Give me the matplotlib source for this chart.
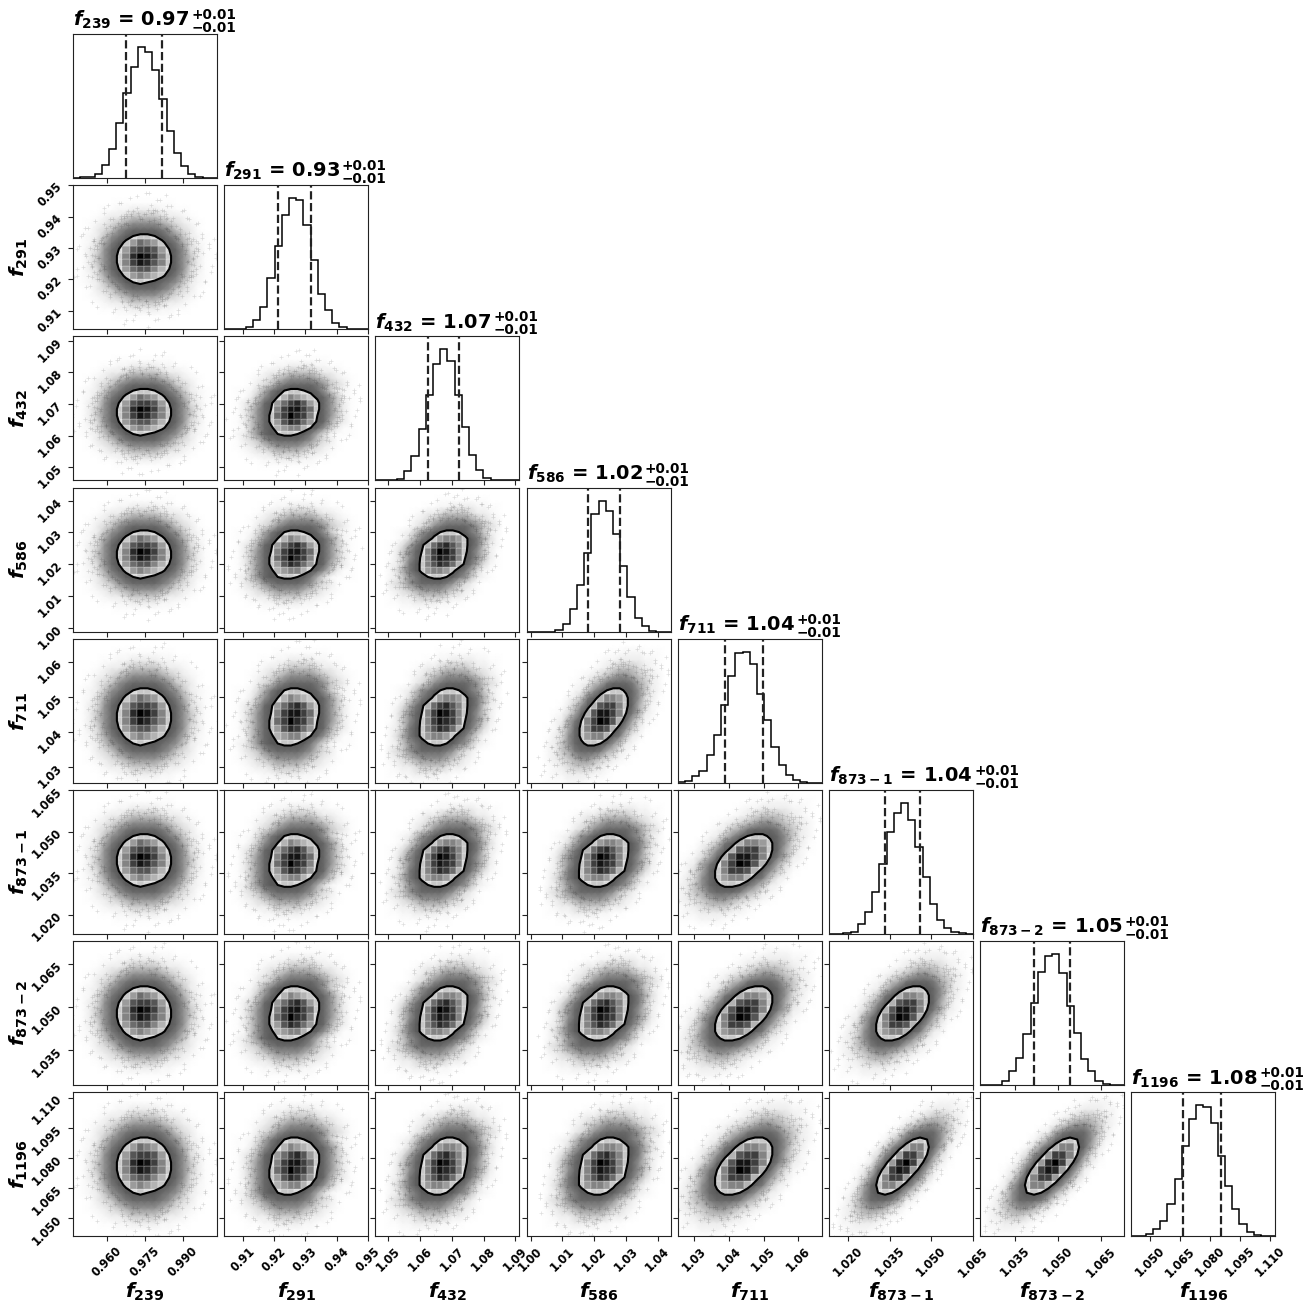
import numpy as np
import matplotlib
matplotlib.use("Agg")
import matplotlib.pyplot as plt

W, H_PX = 1312, 1309

names = ["239", "291", "432", "586", "711", "873-1", "873-2", "1196"]
medians = ["0.97", "0.93", "1.07", "1.02", "1.04", "1.04", "1.05", "1.08"]
err_up = ["+0.01"] * 8
err_lo = ["\u22120.01"] * 8
limits = [(0.9465, 1.0033), (0.9041, 0.9500), (1.0459, 1.0913), (0.99875, 1.0441),
          (1.0254, 1.0667), (1.0131, 1.0650), (1.0227, 1.0730), (1.0410, 1.1126)]
ticks = [[0.960, 0.975, 0.990],
         [0.91, 0.92, 0.93, 0.94, 0.95],
         [1.05, 1.06, 1.07, 1.08, 1.09],
         [1.00, 1.01, 1.02, 1.03, 1.04],
         [1.03, 1.04, 1.05, 1.06],
         [1.020, 1.035, 1.050, 1.065],
         [1.035, 1.050, 1.065],
         [1.050, 1.065, 1.080, 1.095, 1.110]]
tick_fmt = ["%.3f", "%.2f", "%.2f", "%.2f", "%.2f", "%.3f", "%.3f", "%.3f"]

hist_239 = [0, 2, 4, 11, 38, 86, 164, 254, 332, 392, 377, 323, 236, 140, 74, 37, 11, 2, 0, 0]
hist_291 = [0, 0, 2, 8, 27, 66, 154, 249, 344, 393, 387, 314, 207, 105, 57, 19, 6, 0, 0, 0]
hist_432 = [0, 0, 0, 5, 28, 72, 153, 256, 350, 392, 358, 256, 161, 76, 30, 7, 0, 0, 0, 0]
hist_586 = [0, 0, 0, 0, 6, 24, 66, 140, 233, 351, 390, 358, 290, 195, 102, 41, 16, 3, 0, 0]
hist_711 = [2, 5, 19, 36, 84, 144, 234, 321, 389, 392, 355, 267, 187, 108, 54, 24, 9, 3, 0, 0]
hist_873_1 = [0, 0, 2, 7, 29, 65, 125, 209, 305, 362, 392, 340, 260, 170, 89, 42, 17, 5, 2, 0]
hist_873_2 = [0, 0, 1, 14, 42, 80, 153, 245, 340, 386, 392, 335, 237, 156, 79, 42, 14, 3, 0, 0]
hist_1196 = [0, 2, 7, 22, 47, 98, 172, 271, 352, 392, 388, 341, 241, 151, 82, 38, 13, 4, 0, 0]
hists = [hist_239, hist_291, hist_432, hist_586, hist_711, hist_873_1, hist_873_2, hist_1196]

q16 = [0.96740, 0.92115, 1.06248, 1.01798, 1.03885, 1.03329, 1.04149, 1.06650]
q84 = [0.98160, 0.93170, 1.07226, 1.02807, 1.04975, 1.04590, 1.05407, 1.08540]

# density cells: level characters, top row first, in cells of 0.4 sigma
level_chars = "0123456789abcdefghijklm"
level_vals = [0, 2, 5, 10, 20, 35, 60, 90, 130, 180, 230, 280, 320, 370, 430, 500, 570, 640, 710, 780, 850, 920, 1000]

density_0 = ["000001111111100000", "000112233332211000", "001233455554332100", "012345677776543210",
             "013457899998754310", "123578acddca875321", "12468adfhgfda86421", "13479cfijjifc97431",
             "13579dgkmljgd97531", "13579dgjlkigd97531", "13479cfhiigec97431", "12468adfgfeda86421",
             "123578acdcb9875321", "013457899998754310", "012345677776543210", "001233455554332100",
             "000112233332211000", "000001111111100000"]
density_1 = ["000000111111110000", "000011223333221100", "000123345555433210", "001234567777654321",
             "001345789999875431", "112468acddcb975321", "113579cegfedb97521", "13469bfhjkifd97531",
             "13579cgjlljhd97531", "13579dhjmkjgc97531", "13579dfikjhfb96431", "12579befggec975311",
             "23579bcddca8642111", "134578999987543100", "123456777765432100", "012334555543321000",
             "001122333322110000", "000011111111000000"]
density_2 = ["000000001111111100", "000000112233332211", "000012334555543321", "000123456777765432",
             "000134578999987543", "0123578acddca87532", "012468adfggfda8642", "12468behjkigda8532",
             "13579cgjmljgd97531", "13579dgjlkjgc97531", "2358adgikjheb86421", "2468adfggfda864210",
             "23578acddca8753210", "345789999875431000", "234567777654321000", "123345555433210000",
             "112233332211000000", "001111111100000000"]
density_3 = ["000000000011222111", "000000001223333221", "000000012345554321", "000001234567765432",
             "000012356899986532", "000023579cddb97532", "0002358aeggfd97431", "001357aeijjgd96421",
             "012469eilljgc86320", "02368cgjmlie964210", "12469dgjjiea753100", "13479dfggea8532000",
             "23579bddc975320000", "235689998653210000", "234567765432100000", "123455543210000000",
             "122333322100000000", "111222110000000000"]
density_4 = ["000000000000112221", "000000000001233322", "000000000123455432", "000000001346776532",
             "000000023689997531", "0000002469cdc97421", "00000247aeggd96310", "0000247afjjgc74200",
             "000136afkmje953100", "001359ejlkfa631000", "00247cgjjfa7420000", "01369dggea74200000",
             "12479cdc9642000000", "135799986320000000", "235677643100000000", "234554321000000000",
             "223332100000000000", "122211000000000000"]
densities = [density_0, density_1, density_2, density_3, density_4]
rhos = [0.0, 0.15, 0.35, 0.55, 0.75]

panel_class = [[0], [0, 1], [0, 1, 2], [0, 1, 2, 3], [0, 1, 2, 2, 3],
               [0, 1, 2, 2, 3, 3], [0, 1, 2, 2, 3, 4, 4]]

# sparse individual samples, in sigma units
tail_u = [2.6, 3.1, -2.8, -3.3, .5, -.9, 1.6, -1.9, 2.4, -2.3, .2, 1.2, -1.1, 3.6, -3.7, .9, -.4, 2.9, -2.7, 2.8,
          -3.0, 1.9, -1.7, 3.4, -3.5, .6, -.5, 2.2, -2.2, 4.0, -4.1, 1.3, -1.4, 3.2, -3.1, 2.7, -2.6, .1, .8, -.7,
          2.5, -2.5, 1.8, -1.9, 2.1, 3.0, -3.3, 3.7, -.1, 1.5, -2.9, 2.4, 3.3, -3.9, .3, -1.0, -2.1, 2.0, 3.9, .4,
          -3.6, 1.1, -1.3, 2.6, -2.4,
          2.1, -2.2, 1.4, -1.5, .3, -.4, 2.8, -2.9, .9, -1, 1.9, -2, 2.4, -2.5, 1.2, -1.3, 2.9, -3, .6, -.7,
          2.2, -2.3, 1.6, -1.7, .1, -.2, 2.6, -2.7, 1, -1.1, 2, -2.1, 2.5, -2.4, 1.5, -1.6, 3, -2.8, .7, -.8,
          2.3, -2.6, 1.8, -1.8, .4, -.5, 2.7, -3.1, 1.1, -1.2,
          2.05, -2.35, 1.35, -1.45, .25, -.35, 2.75, -2.85, .85, -.95, 1.95, -2.05, 2.45, -2.55, 1.15, -1.25, 2.95,
          -2.95, .55, -.65]
tail_v = [.9, -.4, 1.1, .3, 3.0, 2.9, 2.5, 2.4, -1.7, -1.9, -3.2, -2.8, -2.9, .7, -.6, 3.6, 3.8, 2.1, 2.3, -2.2,
          -1.6, -3.1, -3.2, -1.3, 1.4, -3.7, -3.4, 3.0, 3.1, .1, .2, 3.2, 3.4, 1.5, -.2, .0, -.9, 2.7, -2.6, 2.6,
          1.3, 1.0, 2.0, -2.1, -2.2, .6, 1.9, -.8, -2.8, -3.4, -2.6, 2.5, -2.0, -1.1, 4.0, -3.7, 1.9, -1.9, 1.2, 3.3,
          .8, 2.9, 2.6, -1.1, -.3,
          .8, -.6, 1.7, -1.6, 2.3, -2.2, .5, -.4, 2.1, -2.0, 1.2, -1.1, .9, -.7, 2.4, -2.3, -.6, .7, -2.6, 2.7,
          -1.0, .9, -1.8, 1.9, -2.5, 2.4, -.3, .2, -2.2, 2.1, -1.3, 1.4, -1.1, 1.0, 2.0, -2.0, 1.0, .6, 2.9, -2.8,
          1.5, -1.2, 1.3, -1.4, 2.8, -2.9, 1.2, -1.0, 2.6, -2.5,
          -.9, 1.3, -2.3, 2.2, -2.9, 2.8, -1.0, 1.1, -2.7, 2.6, -1.6, 1.5, -.1, .1, -2.4, 2.4, .2, -.3, 2.35, -2.45]

CONTOUR_LEVEL = 320
PT = 0.72  # points per pixel at dpi 100


def math_label(name):
    return r"\boldsymbol{f}_{\mathbf{%s}}" % name


def decode(rows):
    lut = dict(zip(level_chars, level_vals))
    return np.array([[lut[c] for c in r] for r in rows[::-1]], dtype=float)


def axes_at(i, j):
    x0 = 73.0 + j * 151.2
    y0 = 34.0 + i * 151.2
    return fig.add_axes([x0 / W, 1 - (y0 + 144.0) / H_PX, 144.0 / W, 144.0 / H_PX])


def style_ticks(ax, i, j, n):
    ax.set_xlim(*limits[j])
    ax.set_xticks(ticks[j])
    ax.tick_params(labelsize=8.3, length=3.5, width=0.8, color="#222222", pad=2.5)
    if i == n - 1:
        ax.set_xticklabels([tick_fmt[j] % t for t in ticks[j]], rotation=45, fontweight="bold")
        ax.set_xlabel("$%s$" % math_label(names[j]), fontsize=14.5, fontweight="bold")
        ax.xaxis.set_label_coords(0.5, -0.31)
    else:
        ax.set_xticklabels([])
    if i != j:
        ax.set_ylim(*limits[i])
        ax.set_yticks(ticks[i])
        if j == 0:
            ax.set_yticklabels([tick_fmt[i] % t for t in ticks[i]], rotation=45, fontweight="bold")
            ax.set_ylabel("$%s$" % math_label(names[i]), fontsize=14.5, fontweight="bold")
            ax.yaxis.set_label_coords(-0.30, 0.5)
        else:
            ax.set_yticklabels([])
    for s in ax.spines.values():
        s.set_color("#222222")


def draw_title(ax, i):
    main = ax.annotate(r"$%s\,\mathbf{=}\,\mathbf{%s}$" % (math_label(names[i]), medians[i]),
                       xy=(0, 1), xycoords="axes fraction", xytext=(0, 8 * PT),
                       textcoords="offset points", ha="left", va="baseline", fontsize=14)
    fig.canvas.draw_no_output = None
    ext = main.get_window_extent(fig.canvas.get_renderer())
    ax_left = ax.get_window_extent(fig.canvas.get_renderer()).x0
    dx = (ext.x1 - ax_left + 1.5) * PT
    ax.annotate(err_up[i], xy=(0, 1), xycoords="axes fraction", xytext=(dx, 15 * PT),
                textcoords="offset points", ha="left", va="baseline", fontsize=9.8, fontweight="bold")
    ax.annotate(err_lo[i], xy=(0, 1), xycoords="axes fraction", xytext=(dx, 2 * PT),
                textcoords="offset points", ha="left", va="baseline", fontsize=9.8, fontweight="bold")


def draw_pair(ax, i, j):
    cls = panel_class[i - 1][j]
    H = decode(densities[cls])
    cx, cy = (q16[j] + q84[j]) / 2, (q16[i] + q84[i]) / 2
    sx, sy = (q84[j] - q16[j]) / 2, (q84[i] - q16[i]) / 2
    rho = rhos[cls]
    n = H.shape[0]

    # individual samples: both orderings of the listed pairs
    u = np.concatenate([tail_u, tail_v])
    v = np.concatenate([tail_v, tail_u])
    flip = 1 if (i + j) % 2 else -1
    tx = cx + flip * u * sx
    ty = cy + flip * (rho * u + np.sqrt(1 - rho ** 2) * v) * sy
    ax.plot(tx, ty, "+", color="k", ms=3.0, mew=0.5, alpha=0.13, zorder=2.5)

    # smooth cloud of samples outside the contour
    pad = np.pad(H, 1)
    k = np.arange(-1, n + 1) - (n - 1) / 2
    xc, yc = cx + k * 0.4 * sx, cy + k * 0.4 * sy
    gray = 1 - 0.68 * (1 - np.exp(-pad / 90.0))
    ax.pcolormesh(xc, yc, gray, shading="gouraud", cmap="gray", vmin=0, vmax=1, zorder=2)

    # contour line and the cells inside of it
    cs = ax.contour(xc, yc, pad, levels=[CONTOUR_LEVEL], colors="k", linewidths=1.5, zorder=5)
    ke = np.arange(n + 1) - n / 2
    xe, ye = cx + ke * 0.4 * sx, cy + ke * 0.4 * sy
    frac = np.clip((H - CONTOUR_LEVEL) / (1000.0 - CONTOUR_LEVEL), 0, 1)
    cell_gray = 0.85 * (1 - frac) ** 1.1
    mesh = ax.pcolormesh(xe, ye, cell_gray, cmap="gray", vmin=0, vmax=1, zorder=3,
                         edgecolors=(1, 1, 1, 0.12), linewidth=0.3)
    mesh.set_clip_path(cs.get_paths()[0], ax.transData)


fig = plt.figure(figsize=(W / 100, H_PX / 100), dpi=100, facecolor="white")
n_dim = len(names)

for i in range(n_dim):
    for j in range(i + 1):
        ax = axes_at(i, j)
        if i == j:
            lo, hi = limits[i]
            edges = np.linspace(lo, hi, 21)
            ax.stairs(hists[i], edges, color="k", linewidth=1.1, baseline=None)
            ax.axvline(q16[i], color="#222222", ls="--", lw=1.6)
            ax.axvline(q84[i], color="#222222", ls="--", lw=1.6)
            ax.set_ylim(0, 1.1 * max(hists[i]))
            ax.set_yticks([])
            draw_title(ax, i)
        else:
            draw_pair(ax, i, j)
        style_ticks(ax, i, j, n_dim)

fig.savefig("out.png", dpi=100, facecolor="white")
